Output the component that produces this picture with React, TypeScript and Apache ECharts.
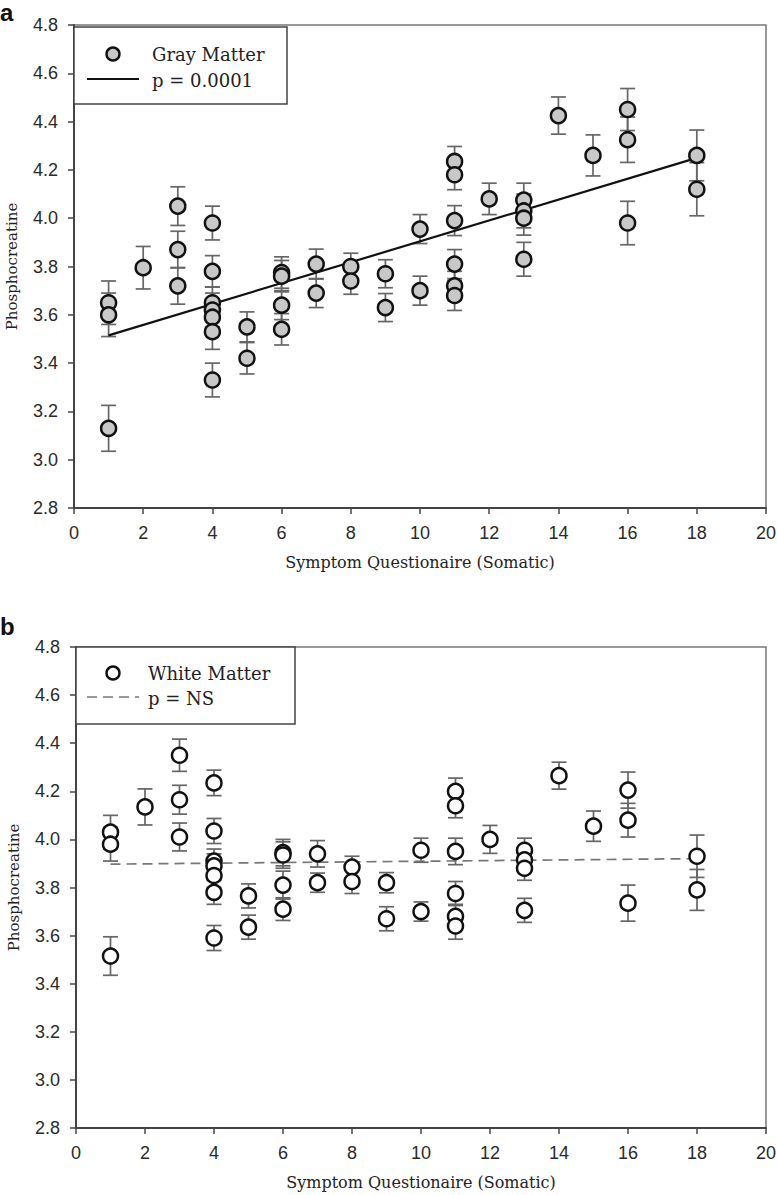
import React, { useEffect, useRef } from "react";
import * as echarts from "echarts";

// Panel a – Gray Matter
const gmX = [1, 1, 1, 2, 3, 3, 3, 4, 4, 4, 4, 4, 4, 4, 5, 5, 6, 6, 6, 6, 7, 7, 8, 8, 9, 9, 10, 10, 11, 11, 11, 11, 11, 11, 12, 13, 13, 13, 13, 14, 15, 16, 16, 16, 18, 18];
const gmY = [3.65, 3.6, 3.13, 3.795, 4.05, 3.87, 3.72, 3.98, 3.78, 3.65, 3.62, 3.59, 3.53, 3.33, 3.55, 3.42, 3.775, 3.76, 3.64, 3.54, 3.81, 3.69, 3.8, 3.74, 3.77, 3.63, 3.955, 3.7, 4.235, 4.18, 3.99, 3.81, 3.72, 3.68, 4.08, 4.075, 4.03, 4.0, 3.83, 4.425, 4.26, 4.45, 4.325, 3.98, 4.26, 4.12];
const gmErr = [0.09, 0.09, 0.095, 0.088, 0.08, 0.076, 0.076, 0.07, 0.065, 0.065, 0.07, 0.07, 0.073, 0.07, 0.062, 0.065, 0.065, 0.065, 0.06, 0.065, 0.062, 0.06, 0.055, 0.055, 0.058, 0.058, 0.06, 0.06, 0.062, 0.062, 0.062, 0.06, 0.06, 0.062, 0.065, 0.07, 0.07, 0.07, 0.07, 0.077, 0.085, 0.087, 0.094, 0.09, 0.105, 0.11];
const gmFitX = [1, 18];
const gmFitY = [3.515, 4.25];

// Panel b – White Matter
const wmX = [1, 1, 1, 2, 3, 3, 3, 4, 4, 4, 4, 4, 4, 4, 5, 5, 6, 6, 6, 6, 7, 7, 8, 8, 9, 9, 10, 10, 11, 11, 11, 11, 11, 11, 12, 13, 13, 13, 13, 14, 15, 16, 16, 16, 18, 18];
const wmY = [4.03, 3.98, 3.515, 4.135, 4.35, 4.165, 4.01, 4.235, 4.035, 3.91, 3.89, 3.85, 3.78, 3.59, 3.765, 3.635, 3.945, 3.935, 3.81, 3.71, 3.94, 3.82, 3.885, 3.825, 3.82, 3.67, 3.955, 3.7, 4.2, 4.14, 3.95, 3.775, 3.68, 3.64, 4.0, 3.955, 3.915, 3.88, 3.705, 4.265, 4.055, 4.205, 4.08, 3.735, 3.93, 3.79];
const wmErr = [0.07, 0.07, 0.08, 0.075, 0.067, 0.06, 0.058, 0.053, 0.052, 0.05, 0.05, 0.05, 0.05, 0.052, 0.05, 0.05, 0.055, 0.055, 0.058, 0.047, 0.055, 0.04, 0.045, 0.05, 0.042, 0.05, 0.05, 0.04, 0.055, 0.05, 0.055, 0.05, 0.05, 0.055, 0.058, 0.05, 0.05, 0.05, 0.05, 0.056, 0.063, 0.075, 0.07, 0.075, 0.088, 0.085];
const wmFitX = [1, 18];
const wmFitY = [3.897, 3.92];

const xTitle = "Symptom Questionaire (Somatic)";
const yTitle = "Phosphocreatine";

const SERIF = "'DejaVu Serif', Georgia, serif";
const SANS = "'Liberation Sans', Arial, sans-serif";

function errRender(params: any, api: any) {
  const x = api.value(0);
  const y = api.value(1);
  const e = api.value(2);
  const hi = api.coord([x, y + e]);
  const lo = api.coord([x, y - e]);
  const w = 7.5;
  const st = { stroke: "#666", lineWidth: 1.7 };
  return {
    type: "group",
    children: [
      { type: "line", shape: { x1: hi[0], y1: hi[1], x2: lo[0], y2: lo[1] }, style: st },
      { type: "line", shape: { x1: hi[0] - w, y1: hi[1], x2: hi[0] + w, y2: hi[1] }, style: st },
      { type: "line", shape: { x1: lo[0] - w, y1: lo[1], x2: lo[0] + w, y2: lo[1] }, style: st },
    ],
  };
}

function makeX(i: number) {
  return {
    type: "value",
    gridIndex: i,
    min: 0,
    max: 20,
    interval: 2,
    splitLine: { show: false },
    axisLine: { onZero: false, lineStyle: { color: "#444", width: 2 } },
    axisTick: { inside: false, length: 6, lineStyle: { color: "#444", width: 1.5 } },
    axisLabel: { color: "#2a2a2a", fontSize: 18, fontFamily: SANS, margin: 16 },
    name: xTitle,
    nameLocation: "middle",
    nameGap: 46,
    nameTextStyle: { fontFamily: SERIF, fontSize: 16, color: "#222" },
  };
}

function makeY(i: number) {
  return {
    type: "value",
    gridIndex: i,
    min: 2.8,
    max: 4.8,
    interval: 0.2,
    splitLine: { show: false },
    axisLine: { onZero: false, lineStyle: { color: "#444", width: 2 } },
    axisTick: { inside: false, length: 6, lineStyle: { color: "#444", width: 1.5 } },
    axisLabel: {
      color: "#2a2a2a",
      fontSize: 18,
      fontFamily: SANS,
      margin: 16,
      formatter: (v: number) => v.toFixed(1),
    },
    name: yTitle,
    nameLocation: "middle",
    nameGap: 55,
    nameTextStyle: { fontFamily: SERIF, fontSize: 15, color: "#222" },
  };
}

export default function App() {
  const ref = useRef<HTMLDivElement>(null);
  useEffect(() => {
    if (!ref.current) return;
    const chart = echarts.init(ref.current, undefined, { renderer: "svg" });
    const gmErrData = gmX.map((x, i) => [x, gmY[i], gmErr[i]]);
    const wmErrData = wmX.map((x, i) => [x, wmY[i], wmErr[i]]);
    const gmPts = gmX.map((x, i) => [x, gmY[i]]);
    const wmPts = wmX.map((x, i) => [x, wmY[i]]);
    const gmFit = gmFitX.map((x, i) => [x, gmFitY[i]]);
    const wmFit = wmFitX.map((x, i) => [x, wmFitY[i]]);

    chart.setOption({
      animation: false,
      backgroundColor: "#fff",
      grid: [
        { left: 74, top: 25, width: 692, height: 483, show: true, borderColor: "#777", borderWidth: 1.5, backgroundColor: "transparent", containLabel: false, outerBoundsMode: "none" },
        { left: 76, top: 647, width: 690, height: 481, show: true, borderColor: "#777", borderWidth: 1.5, backgroundColor: "transparent", containLabel: false, outerBoundsMode: "none" },
      ],
      xAxis: [makeX(0), makeX(1)],
      yAxis: [makeY(0), makeY(1)],
      series: [
        { type: "custom", xAxisIndex: 0, yAxisIndex: 0, renderItem: errRender, data: gmErrData, encode: { x: 0, y: 1 }, z: 1 },
        { type: "line", xAxisIndex: 0, yAxisIndex: 0, data: gmFit, symbol: "none", lineStyle: { color: "#111", width: 2.2 }, z: 2 },
        {
          type: "scatter", xAxisIndex: 0, yAxisIndex: 0, data: gmPts, symbol: "circle", symbolSize: 15,
          itemStyle: { color: "#c8c8c8", borderColor: "#111", borderWidth: 2.5, opacity: 1 }, z: 3,
        },
        { type: "custom", xAxisIndex: 1, yAxisIndex: 1, renderItem: errRender, data: wmErrData, encode: { x: 0, y: 1 }, z: 1 },
        { type: "line", xAxisIndex: 1, yAxisIndex: 1, data: wmFit, symbol: "none", lineStyle: { color: "#777", width: 1.7, type: [10, 6] }, z: 2 },
        {
          type: "scatter", xAxisIndex: 1, yAxisIndex: 1, data: wmPts, symbol: "circle", symbolSize: 15,
          itemStyle: { color: "#fff", borderColor: "#111", borderWidth: 2.5, opacity: 1 }, z: 3,
        },
      ],
      graphic: [
        { type: "text", left: 0, top: 0, style: { text: "a", font: "bold 24px " + SANS, fill: "#111" } },
        { type: "text", left: 0, top: 614, style: { text: "b", font: "bold 24px " + SANS, fill: "#111" } },
        // legend a
        { type: "rect", shape: { x: 74, y: 27, width: 213, height: 77 }, style: { fill: "#fff", stroke: "#444", lineWidth: 1.5 }, z: 10 },
        { type: "circle", shape: { cx: 113, cy: 54, r: 6.5 }, style: { fill: "#c8c8c8", stroke: "#111", lineWidth: 2.4 }, z: 11 },
        { type: "text", x: 152, y: 54, style: { text: "Gray Matter", font: "18px " + SERIF, fill: "#222", verticalAlign: "middle" }, z: 11 },
        { type: "line", shape: { x1: 87, y1: 79, x2: 139, y2: 79 }, style: { stroke: "#111", lineWidth: 2.2 }, z: 11 },
        { type: "text", x: 152, y: 80, style: { text: "p = 0.0001", font: "18px " + SERIF, fill: "#222", verticalAlign: "middle" }, z: 11 },
        // legend b
        { type: "rect", shape: { x: 76, y: 647, width: 219, height: 77 }, style: { fill: "#fff", stroke: "#444", lineWidth: 1.5 }, z: 10 },
        { type: "circle", shape: { cx: 113, cy: 673, r: 6.5 }, style: { fill: "#fff", stroke: "#111", lineWidth: 2.4 }, z: 11 },
        { type: "text", x: 148, y: 673, style: { text: "White Matter", font: "18px " + SERIF, fill: "#222", verticalAlign: "middle" }, z: 11 },
        { type: "line", shape: { x1: 87, y1: 697, x2: 139, y2: 697 }, style: { stroke: "#777", lineWidth: 1.7, lineDash: [10, 6] }, z: 11 },
        { type: "text", x: 148, y: 698, style: { text: "p = NS", font: "18px " + SERIF, fill: "#222", verticalAlign: "middle" }, z: 11 },
      ],
    });
    return () => chart.dispose();
  }, []);
  return <div ref={ref} style={{ position: "absolute", left: 0, top: 0, width: 777, height: 1195 }} />;
}
